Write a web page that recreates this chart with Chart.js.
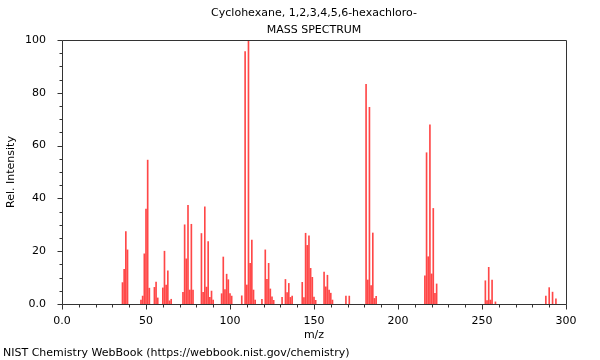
<!DOCTYPE html>
<html><head><meta charset="utf-8">
<script src="https://cdn.jsdelivr.net/npm/chart.js@4"></script>
<style>html,body{margin:0;padding:0;background:#fff}</style>
</head><body>
<canvas id="c" width="600" height="360" style="display:block;width:600px;height:360px"></canvas>
<script>
const titleLines = ["Cyclohexane, 1,2,3,4,5,6-hexachloro-", "MASS SPECTRUM"];
const footerText = "NIST Chemistry WebBook (https://webbook.nist.gov/chemistry)";
const xAxisTitle = "m/z";
const yAxisTitle = "Rel. Intensity";
const xTickValues = [0, 50, 100, 150, 200, 250, 300];
const yTickValues = [0, 20, 40, 60, 80, 100];

const mz = [36,37,38,39,47,48,49,50,51,52,55,56,57,60,61,62,63,64,65,
  72,73,74,75,76,77,78,83,84,85,86,87,88,89,90,95,96,97,98,99,100,101,
  107,109,110,111,112,113,114,115,119,121,122,123,124,125,126,
  131,133,134,135,136,137,143,144,145,146,147,148,149,150,151,
  156,157,158,159,160,161,169,171,181,182,183,184,185,186,187,
  216,217,218,219,220,221,222,223,252,253,254,255,256,258,288,290,292,294];
const intensity = [8.1,13.1,27.4,20.5,1.5,3,19,36,54.5,6,6.3,8.3,2.3,6.1,20,7.2,12.6,1.2,1.8,
  4.4,30,17.1,37.4,5.3,30.2,5.3,26.7,4.4,36.8,6.4,23.6,2.5,4.9,1.5,3.9,17.8,5.5,11.3,9.2,3.9,3,
  3.1,95.6,7.2,100,15.4,24.2,5.3,1.5,1.8,20.5,9.3,15.4,5.7,2.7,1.4,
  2.5,9.3,4.3,7.8,2.5,3,8.2,2.4,26.8,22.2,25.8,13.5,10.1,2.6,1.4,
  12.1,6.5,10.9,5.3,4.1,1.5,3,3,83.2,9.1,74.5,7,26.9,2.1,2.9,
  10.7,57.3,17.9,67.9,11.4,36.2,4,7.6,8.8,1.3,13.9,1.5,9.1,0.8,3,6.2,4.5,2];

const FONT = '"DejaVu Sans", "Liberation Sans", sans-serif';

const decor = {
  id: 'decor',
  afterDraw(chart) {
    const {ctx, chartArea: a} = chart;
    const x = chart.scales.x, y = chart.scales.y;
    ctx.save();
    ctx.strokeStyle = '#333';
    ctx.lineWidth = 1;
    const L = Math.round(a.left) + 0.5, T = Math.round(a.top) + 0.5;
    const R = Math.round(a.right) + 0.5, B = Math.round(a.bottom) + 0.5;
    ctx.beginPath();
    ctx.rect(L, T, R - L, B - T);
    for (let v = y.min; v <= y.max; v += 5) {
      const py = Math.round(y.getPixelForValue(v)) + 0.5;
      const len = yTickValues.includes(v) ? 5 : 3;
      ctx.moveTo(L - len, py); ctx.lineTo(L, py);
    }
    for (let v = x.min; v <= x.max; v += 10) {
      const px = Math.round(x.getPixelForValue(v)) + 0.5;
      const len = xTickValues.includes(v) ? 5 : 3;
      ctx.moveTo(px, B); ctx.lineTo(px, B + len);
    }
    ctx.stroke();
    ctx.fillStyle = '#000';
    ctx.font = '11px ' + FONT;
    ctx.textAlign = 'center';
    ctx.textBaseline = 'middle';
    const cx = (a.left + a.right) / 2;
    ctx.fillText(titleLines[0], cx, 13);
    ctx.fillText(titleLines[1], cx, 30);
    ctx.textAlign = 'left';
    ctx.fillText(footerText, 3, 353);
    ctx.restore();
  }
};

new Chart(document.getElementById('c'), {
  type: 'bar',
  data: {
    datasets: [{
      data: mz.map((m, i) => ({x: m, y: intensity[i]})),
      backgroundColor: 'rgba(255,0,0,0.72)',
      borderWidth: 0,
      barThickness: 1
    }]
  },
  options: {
    responsive: false,
    animation: false,
    devicePixelRatio: 1,
    layout: {padding: {top: 40, right: 34, left: 0, bottom: 0}},
    plugins: {legend: {display: false}, tooltip: {enabled: false}, title: {display: false}},
    scales: {
      x: {
        type: 'linear', min: 0, max: 300, offset: false,
        grid: {display: false, offset: false},
        border: {display: false},
        afterFit: s => { s.height = 56; },
        afterBuildTicks: s => { s.ticks = xTickValues.map(v => ({value: v})); },
        ticks: {
          autoSkip: false, maxRotation: 0, padding: 3, color: '#000',
          font: {family: FONT, size: 11},
          callback: v => v === 0 ? '0.0' : String(v)
        },
        title: {display: true, text: xAxisTitle, color: '#000', font: {family: FONT, size: 11}, padding: {top: 0, bottom: 18}}
      },
      y: {
        type: 'linear', min: 0, max: 100,
        grid: {display: false},
        border: {display: false},
        afterFit: s => { s.width = 62; },
        afterBuildTicks: s => { s.ticks = yTickValues.map(v => ({value: v})); },
        ticks: {
          autoSkip: false, padding: 8, color: '#000',
          font: {family: FONT, size: 11},
          callback: v => v === 0 ? '0.0' : String(v)
        },
        title: {display: true, text: yAxisTitle, color: '#000', font: {family: FONT, size: 11}, padding: {top: 5, bottom: 0}}
      }
    }
  },
  plugins: [decor]
});
</script>
</body></html>
